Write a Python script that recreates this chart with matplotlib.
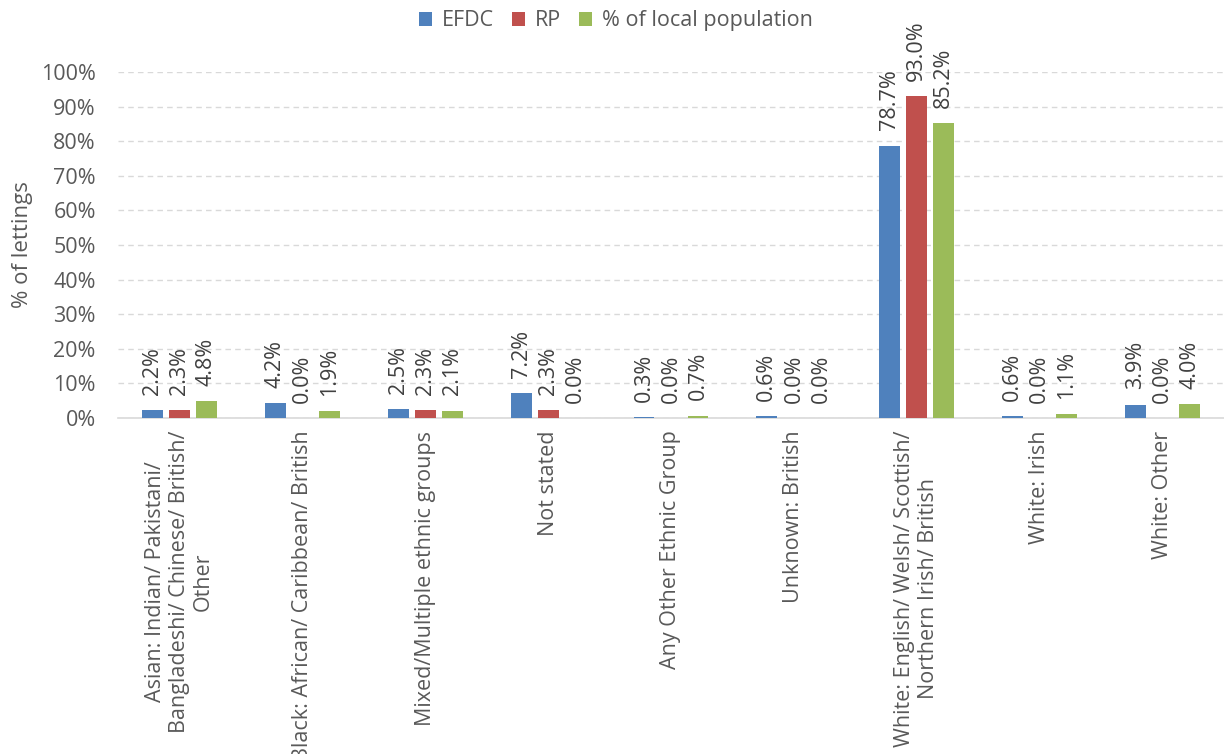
import numpy as np
import matplotlib
matplotlib.use("Agg")
from matplotlib import pyplot as plt

# dati
categorie = ["Asian: Indian/ Pakistani/\nBangladeshi/ Chinese/ British/\nOther",
             "Black: African/ Caribbean/ British",
             "Mixed/Multiple ethnic groups",
             "Not stated",
             "Any Other Ethnic Group",
             "Unknown: British",
             "White: English/ Welsh/ Scottish/\nNorthern Irish/ British",
             "White: Irish",
             "White: Other"]
efdc = [2.2, 4.2, 2.5, 7.2, 0.3, 0.6, 78.7, 0.6, 3.9]
rp = [2.3, 0.0, 2.3, 2.3, 0.0, 0.0, 93.0, 0.0, 0.0]
locale = [4.8, 1.9, 2.1, 0.0, 0.7, 0.0, 85.2, 1.1, 4.0]
serie = ["EFDC", "RP", "% of local population"]
colori = ["#4F81BD", "#C0504D", "#9BBB59"]

plt.rcParams['font.family'] = ['Open Sans', 'DejaVu Sans']
fs = 15.5

fig = plt.figure(figsize=(12.24, 7.54), dpi=100)
ax = fig.add_axes([0.0964, 0.4456, 0.9036, 0.4589])

x = np.arange(len(categorie))
larghezza = 0.17
passo = 0.22
for i, (valori, nome, col) in enumerate(zip([efdc, rp, locale], serie, colori)):
    pos = x + (i - 1) * passo
    barre = ax.bar(pos, np.array(valori) / 100.0, larghezza, color=col, label=nome, zorder=3)
    for xp, v in zip(pos, valori):
        ax.annotate("%.1f%%" % v, (xp, v / 100.0), xytext=(0, 11), textcoords="offset points",
                    rotation=90, ha="center", va="bottom", fontsize=fs, color="#404040",
                    annotation_clip=False)

ax.set_xlim(-0.5, len(categorie) - 0.5)
ax.set_ylim(0, 1.0)
ax.set_yticks(np.arange(0, 1.01, 0.1))
ax.set_yticklabels(["%d%%" % (v * 100) for v in np.arange(0, 1.01, 0.1)], fontsize=fs, color="#595959")
ax.set_xticks(x)
ax.set_xticklabels(categorie, rotation=90, fontsize=fs, color="#595959", ha="center", va="top",
                   multialignment="center", linespacing=1.2)
ax.tick_params(axis="y", length=0, pad=16)
ax.tick_params(axis="x", length=0, pad=9)
ax.yaxis.grid(True, color="#D9D9D9", linestyle=(0, (4, 3)), linewidth=1, zorder=0)
for s in ["top", "right", "left"]:
    ax.spines[s].set_visible(False)
ax.spines["bottom"].set_color("#D9D9D9")
ax.spines["bottom"].set_linewidth(1.2)
ax.set_ylabel("% of lettings", fontsize=16, color="#595959", labelpad=6)

fig.legend(loc="upper center", bbox_to_anchor=(0.503, 1.012), ncol=3, frameon=False, fontsize=fs,
           handlelength=0.6, handleheight=0.6, handletextpad=0.45, columnspacing=0.85,
           labelcolor="#595959")

fig.savefig("out.png", dpi=100)
